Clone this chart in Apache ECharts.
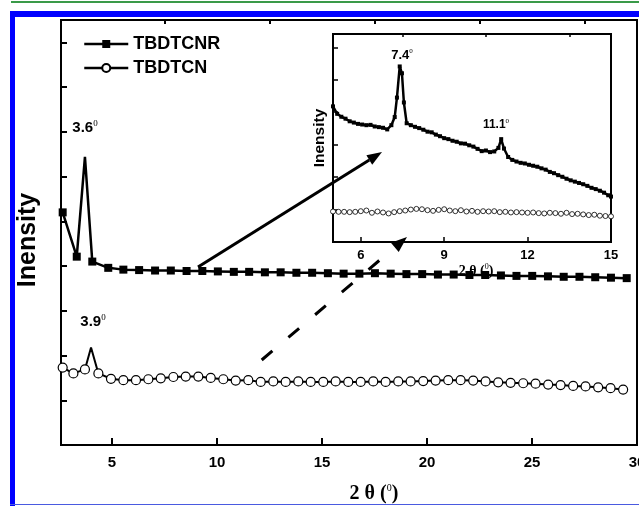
<!DOCTYPE html>
<html><head><meta charset="utf-8">
<script src="https://cdn.jsdelivr.net/npm/echarts@6/dist/echarts.min.js"></script>
<style>html,body{margin:0;padding:0;background:#fff}#c{width:639px;height:506px}</style>
</head><body><div id="c"></div>
<script>
// ---------- data ----------
const seriesNames = ['TBDTCNR', 'TBDTCN'];
const mainXTicks = [5, 10, 15, 20, 25, 30];
const mainXMinor = [7.5, 12.5, 17.5, 22.5, 27.5];
const mainYTicks = [0, 1, 2, 3, 4, 5, 6, 7, 8, 9];
const insetXTicks = [6, 9, 12, 15];
const insetXMinor = [7.5, 10.5, 13.5];
const insetYTicks = [0, 1, 2, 3, 4, 5, 6];

// main chart, TBDTCNR (marked points)
const mainR = [[2.65,5.20],[3.32,4.21],[4.06,4.10],[4.82,3.96],[5.54,3.92],[6.29,3.91],[7.05,3.90],[7.80,3.90],[8.55,3.89],[9.30,3.89],[10.04,3.88],[10.80,3.87],[11.53,3.87],[12.28,3.86],[13.03,3.86],[13.78,3.85],[14.53,3.85],[15.28,3.84],[16.03,3.83],[16.78,3.83],[17.52,3.84],[18.27,3.83],[19.02,3.82],[19.77,3.82],[20.52,3.81],[21.27,3.81],[22.02,3.80],[22.77,3.80],[23.52,3.79],[24.26,3.78],[25.01,3.78],[25.76,3.77],[26.51,3.76],[27.26,3.76],[28.01,3.75],[28.76,3.74],[29.51,3.73]];
const mainRPeak = [[3.71,6.44]];
// main chart, TBDTCN (marked points)
const mainN = [[2.65,1.73],[3.16,1.60],[3.71,1.69],[4.35,1.60],[4.95,1.48],[5.54,1.45],[6.14,1.45],[6.73,1.47],[7.32,1.49],[7.92,1.52],[8.51,1.53],[9.11,1.53],[9.70,1.50],[10.30,1.47],[10.89,1.44],[11.49,1.45],[12.08,1.41],[12.68,1.42],[13.27,1.41],[13.87,1.42],[14.46,1.41],[15.06,1.41],[15.65,1.42],[16.25,1.41],[16.84,1.41],[17.44,1.42],[18.03,1.41],[18.63,1.42],[19.22,1.42],[19.82,1.43],[20.41,1.44],[21.01,1.45],[21.60,1.45],[22.20,1.44],[22.79,1.42],[23.39,1.40],[23.98,1.39],[24.58,1.38],[25.17,1.37],[25.77,1.35],[26.36,1.34],[26.96,1.32],[27.55,1.31],[28.15,1.29],[28.74,1.27],[29.34,1.24]];
const mainNPeak = [[4.00,2.18]];

// inset, TBDTCNR
const insetR = [[5.00,4.18],[5.15,3.95],[5.30,3.86],[5.45,3.80],[5.60,3.72],[5.75,3.68],[5.90,3.64],[6.05,3.62],[6.20,3.60],[6.35,3.61],[6.50,3.56],[6.65,3.54],[6.80,3.52],[6.95,3.47],[7.10,3.60],[7.22,3.85],[7.30,4.45],[7.40,5.41],[7.48,5.20],[7.55,4.30],[7.65,3.66],[7.80,3.60],[7.95,3.55],[8.10,3.51],[8.25,3.46],[8.40,3.40],[8.55,3.38],[8.70,3.31],[8.85,3.26],[9.00,3.20],[9.15,3.17],[9.30,3.12],[9.45,3.09],[9.60,3.04],[9.75,3.03],[9.90,2.98],[10.05,2.94],[10.20,2.87],[10.35,2.80],[10.50,2.82],[10.65,2.77],[10.80,2.79],[10.95,2.90],[11.05,3.17],[11.15,2.88],[11.30,2.62],[11.45,2.53],[11.60,2.48],[11.75,2.44],[11.90,2.42],[12.05,2.38],[12.20,2.35],[12.35,2.32],[12.50,2.27],[12.65,2.23],[12.80,2.16],[12.95,2.12],[13.10,2.06],[13.25,2.01],[13.40,1.95],[13.55,1.90],[13.70,1.86],[13.85,1.82],[14.00,1.78],[14.15,1.73],[14.30,1.67],[14.45,1.63],[14.60,1.58],[14.75,1.52],[14.90,1.44],[15.00,1.40]];
// inset, TBDTCN
const insetN = [[5.0,0.94],[5.2,0.93],[5.4,0.93],[5.6,0.92],[5.8,0.93],[6.0,0.95],[6.2,0.97],[6.4,0.90],[6.6,0.94],[6.8,0.91],[7.0,0.88],[7.2,0.92],[7.4,0.95],[7.6,0.97],[7.8,1.00],[8.0,1.02],[8.2,1.01],[8.4,0.98],[8.6,0.96],[8.8,0.99],[9.0,1.01],[9.2,0.97],[9.4,0.95],[9.6,0.98],[9.8,0.94],[10.0,0.96],[10.2,0.93],[10.4,0.95],[10.6,0.94],[10.8,0.95],[11.0,0.92],[11.2,0.93],[11.4,0.91],[11.6,0.92],[11.8,0.91],[12.0,0.90],[12.2,0.91],[12.4,0.89],[12.6,0.88],[12.8,0.90],[13.0,0.89],[13.2,0.87],[13.4,0.90],[13.6,0.86],[13.8,0.87],[14.0,0.85],[14.2,0.83],[14.4,0.84],[14.6,0.81],[14.8,0.80],[15.0,0.79]];

const peakLabels = ['3.6', '3.9', '7.4', '11.1'];
const axisTitleX = '2 θ (';
const axisTitleY = 'Inensity';

// ---------- build ----------
function withPeaks(marked, peaks) {
  const all = marked.map(p => ({ value: p }))
    .concat(peaks.map(p => ({ value: p, symbol: 'none' })));
  all.sort((a, b) => a.value[0] - b.value[0]);
  return all;
}

const SANS = 'Liberation Sans, Arial, sans-serif';
const SERIF = 'Liberation Serif, Times New Roman, serif';
const supRich = (size, supSize) => ({
  a: { fontFamily: SANS, fontWeight: 'bold', fontSize: size, color: '#000', lineHeight: size + 2 },
  s: { fontFamily: SERIF, fontSize: supSize, color: '#000', verticalAlign: 'top', lineHeight: size + 2 }
});
const titleRich = (size, supSize) => ({
  a: { fontFamily: SERIF, fontWeight: 'bold', fontSize: size, color: '#000', lineHeight: size + 2 },
  s: { fontFamily: SERIF, fontSize: supSize, color: '#000', verticalAlign: 'top', lineHeight: size + 2 }
});

const chart = echarts.init(document.getElementById('c'), null, { renderer: 'canvas' });

const blackAxisLine = { show: true, lineStyle: { color: '#000', width: 2 } };

const option = {
  animation: false,
  backgroundColor: '#fff',
  legend: {
    data: seriesNames,
    orient: 'vertical',
    left: 78, top: 30,
    itemWidth: 44, itemHeight: 10, itemGap: 6,
    lineStyle: { width: 2.5 },
    textStyle: { fontFamily: SANS, fontWeight: 'bold', fontSize: 18, color: '#000' }
  },
  grid: [
    { left: 61, top: 20, width: 576, height: 425, show: true, borderColor: '#000', borderWidth: 2, backgroundColor: 'transparent', outerBoundsMode: 'none', containLabel: false },
    { left: 333, top: 34, width: 278, height: 208, show: true, borderColor: '#000', borderWidth: 2, backgroundColor: '#fff', outerBoundsMode: 'none', containLabel: false }
  ],
  xAxis: [
    { type: 'value', gridIndex: 0, min: 2.57, max: 30, axisLine: blackAxisLine,
      axisTick: { show: true, inside: true, length: 7, lineStyle: { color: '#000', width: 2 }, customValues: mainXTicks },
      axisLabel: { show: true, customValues: mainXTicks, fontFamily: SANS, fontWeight: 'bold', fontSize: 15, color: '#000', margin: 10 },
      splitLine: { show: false },
      name: '{a|' + axisTitleX + '}{s|0}{a|)}', nameLocation: 'middle', nameGap: 38,
      nameTextStyle: { rich: titleRich(20, 10), padding: [0, 0, 0, 50] } },
    { type: 'value', gridIndex: 0, min: 2.57, max: 30, axisLine: { show: false },
      axisTick: { show: true, inside: true, length: 4, lineStyle: { color: '#000', width: 2 }, customValues: mainXMinor },
      axisLabel: { show: false }, splitLine: { show: false } },
    { type: 'value', gridIndex: 1, min: 5, max: 15, axisLine: blackAxisLine,
      axisTick: { show: true, inside: true, length: 5, lineStyle: { color: '#000', width: 1.5 }, customValues: insetXTicks },
      axisLabel: { show: true, customValues: insetXTicks, fontFamily: SANS, fontWeight: 'bold', fontSize: 13, color: '#000', margin: 7 },
      splitLine: { show: false },
      name: '{a|' + axisTitleX + '}{s|0}{a|)}', nameLocation: 'middle', nameGap: 20,
      nameTextStyle: { rich: titleRich(14, 8), padding: [0, 0, 0, 8] } },
    { type: 'value', gridIndex: 1, min: 5, max: 15, axisLine: { show: false },
      axisTick: { show: true, inside: true, length: 3, lineStyle: { color: '#000', width: 1.5 }, customValues: insetXMinor },
      axisLabel: { show: false }, splitLine: { show: false } }
  ],
  yAxis: [
    { type: 'value', gridIndex: 0, min: 0, max: 9.5, axisLine: blackAxisLine,
      axisTick: { show: true, inside: true, length: 6, lineStyle: { color: '#000', width: 2 }, customValues: mainYTicks },
      axisLabel: { show: false }, splitLine: { show: false },
      name: axisTitleY, nameLocation: 'middle', nameGap: 20,
      nameTextStyle: { fontFamily: SANS, fontWeight: 'bold', fontSize: 25, color: '#000', padding: [0, 15, 0, 0] } },
    { type: 'value', gridIndex: 1, min: 0, max: 6.41, axisLine: blackAxisLine,
      axisTick: { show: true, inside: true, length: 5, lineStyle: { color: '#000', width: 1.5 }, customValues: insetYTicks },
      axisLabel: { show: false }, splitLine: { show: false },
      name: axisTitleY, nameLocation: 'middle', nameGap: 5,
      nameTextStyle: { fontFamily: SANS, fontWeight: 'bold', fontSize: 15.5, color: '#000' } }
  ],
  series: [
    { name: seriesNames[0], type: 'line', xAxisIndex: 0, yAxisIndex: 0,
      data: withPeaks(mainR, mainRPeak), symbol: 'rect', symbolSize: 8, showSymbol: true,
      lineStyle: { color: '#000', width: 2.5 }, itemStyle: { color: '#000' }, z: 3 },
    { name: seriesNames[1], type: 'line', xAxisIndex: 0, yAxisIndex: 0,
      data: withPeaks(mainN, mainNPeak), symbol: 'circle', symbolSize: 9, showSymbol: true,
      lineStyle: { color: '#000', width: 2 }, itemStyle: { color: '#fff', borderColor: '#000', borderWidth: 1.2 }, z: 3 },
    { name: seriesNames[0] + ' (inset)', type: 'line', xAxisIndex: 2, yAxisIndex: 1,
      data: insetR, symbol: 'rect', symbolSize: 4, showSymbol: true,
      lineStyle: { color: '#000', width: 2.5 }, itemStyle: { color: '#000' }, z: 4 },
    { name: seriesNames[1] + ' (inset)', type: 'line', xAxisIndex: 2, yAxisIndex: 1,
      data: insetN, symbol: 'circle', symbolSize: 5, showSymbol: true,
      lineStyle: { color: '#000', width: 0.6 }, itemStyle: { color: '#fff', borderColor: '#000', borderWidth: 0.8 }, z: 4 }
  ],
  graphic: [
    // page frame
    { type: 'rect', shape: { x: 11, y: 1, width: 628, height: 2 }, style: { fill: '#3a9a48' }, z: 100 },
    { type: 'rect', shape: { x: 10, y: 11, width: 629, height: 6 }, style: { fill: '#0000ff' }, z: 100 },
    { type: 'rect', shape: { x: 10, y: 11, width: 5, height: 495 }, style: { fill: '#0000ff' }, z: 100 },
    { type: 'rect', shape: { x: 10, y: 504, width: 629, height: 1 }, style: { fill: '#4a5ae0' }, z: 100 },
    // solid arrow
    { type: 'line', shape: { x1: 198, y1: 267, x2: 369.3, y2: 160 }, style: { stroke: '#000', lineWidth: 3 }, z: 100 },
    { type: 'polygon', shape: { points: [[382, 152], [372.2, 164.7], [366.4, 155.3]] }, style: { fill: '#000' }, z: 100 },
    // dashed arrow
    { type: 'line', shape: { x1: 261.7, y1: 360, x2: 394.8, y2: 247.3 }, style: { stroke: '#000', lineWidth: 3, lineDash: [14, 21] }, z: 100 },
    { type: 'polygon', shape: { points: [[407, 237], [398.7, 251.9], [390.9, 242.7]] }, style: { fill: '#000' }, z: 100 },
    // peak labels
    { type: 'text', x: 85, y: 128, z: 100, style: { text: '{a|' + peakLabels[0] + '}{s|0}', rich: supRich(15, 9), align: 'center', verticalAlign: 'middle' } },
    { type: 'text', x: 93, y: 322, z: 100, style: { text: '{a|' + peakLabels[1] + '}{s|0}', rich: supRich(15, 9), align: 'center', verticalAlign: 'middle' } },
    { type: 'text', x: 402, y: 55, z: 100, style: { text: '{a|' + peakLabels[2] + '}{s|0}', rich: supRich(13, 7), align: 'center', verticalAlign: 'middle' } },
    { type: 'text', x: 496, y: 125, z: 100, style: { text: '{a|' + peakLabels[3] + '}{s|0}', rich: supRich(12, 7), align: 'center', verticalAlign: 'middle' } }
  ]
};
chart.setOption(option);
</script>
</body></html>
